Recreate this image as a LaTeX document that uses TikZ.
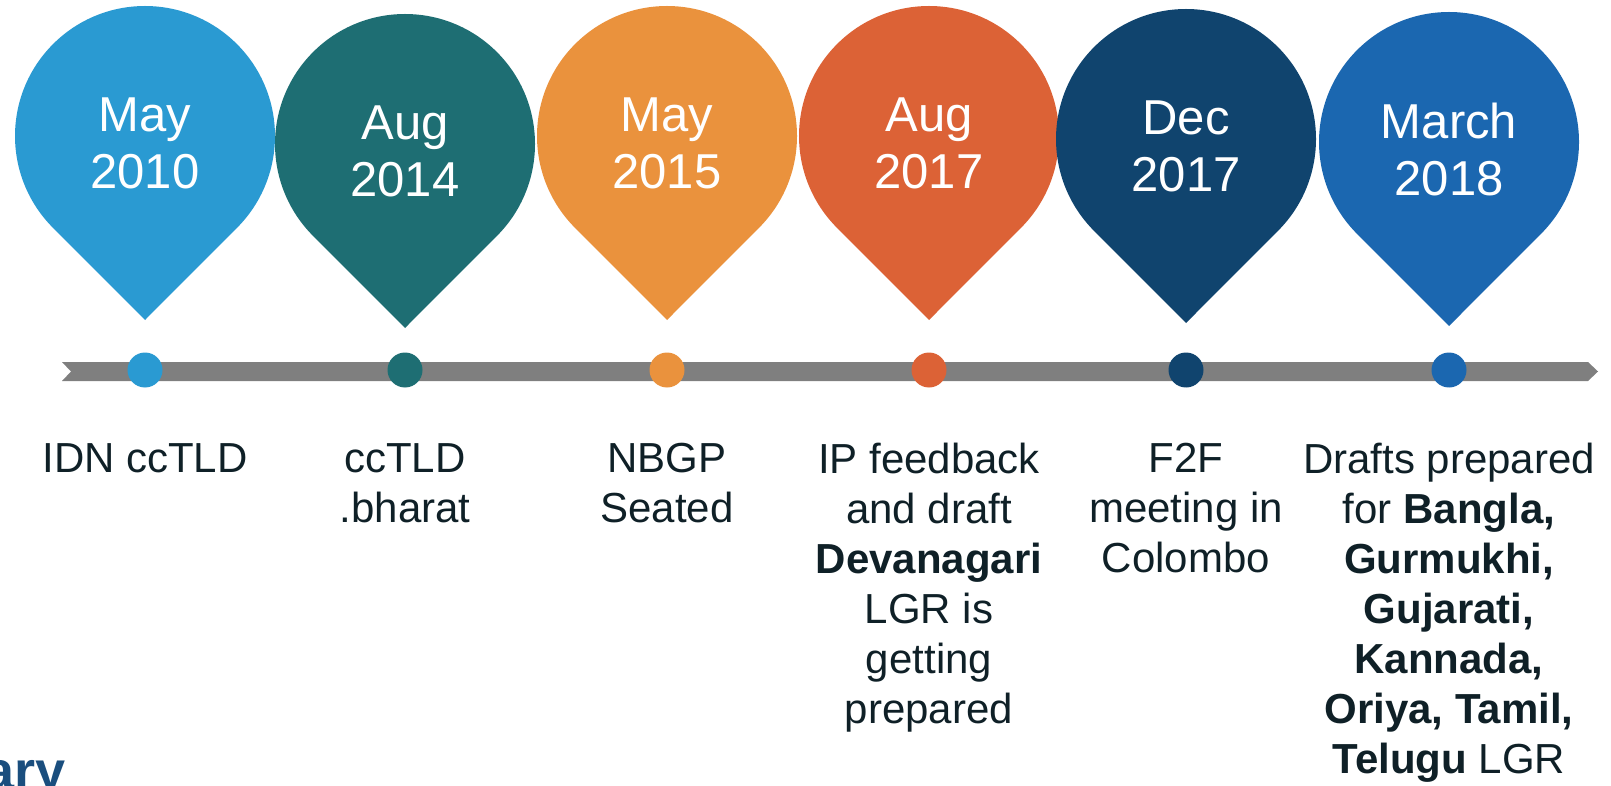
\documentclass[tikz,border=0pt]{standalone}
\usepackage{fontspec}
\setmainfont{Liberation Sans}
\usetikzlibrary{positioning}
\definecolor{pinsky}{HTML}{2A9AD2}
\definecolor{pinteal}{HTML}{1E6E73}
\definecolor{pinorange}{HTML}{EA923D}
\definecolor{pinrust}{HTML}{DC6236}
\definecolor{pinnavy}{HTML}{10446E}
\definecolor{pinblue}{HTML}{1B67B0}
\definecolor{bargray}{HTML}{7F7F7F}
\definecolor{ink}{HTML}{0F2027}
\definecolor{titleblue}{HTML}{1A4E7E}

\begin{document}
\begin{tikzpicture}[
  x=0.5pt,y=-0.5pt,
  date/.style={text=white,align=center,inner sep=0pt,font=\fontsize{24.5}{28.5}\selectfont},
  lbl/.style={text=ink,align=center,inner sep=0pt,font=\fontsize{21}{25}\selectfont},
  dot/.style={circle,inner sep=0pt,minimum size=17.5pt}
]
\useasboundingbox (0,0) rectangle (1611,786);
\clip (0,0) rectangle (1611,786);
% timeline bar
\fill[bargray] (62,362) -- (71,371.5) -- (62,381) -- (1588,381) -- (1598,371.5) -- (1588,362) -- cycle;
% pins and dots
\foreach \cx/\cy/\col/\when [count=\i] in {
  145/136/pinsky/{May\\2010},
  405/144/pinteal/{Aug\\2014},
  667/136/pinorange/{May\\2015},
  929/136/pinrust/{Aug\\2017},
  1186/139/pinnavy/{Dec\\2017},
  1449/142/pinblue/{March\\2018}} {
  \fill[\col] ([shift={(45:130)}]\cx,\cy) arc[start angle=45,end angle=-225,radius=130] -- (\cx,\cy+184) -- cycle;
  \node[date] (date\i) at (\cx,\cy+7) {\when};
  \node[dot,fill=\col] (dot\i) at (\cx,370) {};
}
% captions
\node[lbl,below=27.5pt of dot1] (lbl1) {IDN ccTLD};
\node[lbl,below=27.5pt of dot2] (lbl2) {ccTLD\\.bharat};
\node[lbl,below=27.5pt of dot3] (lbl3) {NBGP\\Seated};
\node[lbl,below=27.5pt of dot4] (lbl4) {IP feedback\\and draft\\\textbf{Devanagari}\\LGR is\\getting\\prepared};
\node[lbl,below=27.5pt of dot5] (lbl5) {F2F\\meeting in\\Colombo};
\node[lbl,below=27.5pt of dot6] (lbl6) {Drafts prepared\\for \textbf{Bangla,}\\\textbf{Gurmukhi,}\\\textbf{Gujarati,}\\\textbf{Kannada,}\\\textbf{Oriya, Tamil,}\\\textbf{Telugu} LGR};
\node[text=titleblue,anchor=base east,inner sep=0pt,font=\bfseries\fontsize{27}{30}\selectfont] (title) at (66,789) {ary};
\end{tikzpicture}
\end{document}
